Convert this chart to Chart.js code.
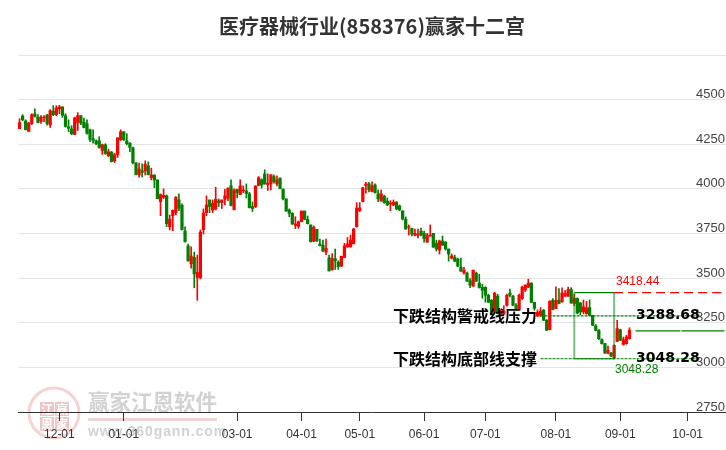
<!DOCTYPE html>
<html>
<head>
<meta charset="utf-8">
<title>医疗器械行业(858376)赢家十二宫</title>
<script src="https://cdn.jsdelivr.net/npm/chart.js@4/dist/chart.umd.min.js"></script>
<style>
  html, body { margin: 0; padding: 0; background: #fff; }
  canvas { display: block; }
</style>
</head>
<body>
<canvas id="chart" width="726" height="450"></canvas>
<script>
// daily candles
const opens = [
  4337,4408,4380,4322,4365,4421,4402,4378,4399,4414,4359,4436,4416,4449,4459,4410,4348,4335,4305,4372,
  4410,4374,4365,4331,4281,4269,4269,4215,4247,4185,4206,4157,4193,4275,4320,4269,4256,4230,4146,4078,
  4101,4101,4129,4063,4078,4050,3929,3953,3961,3788,3850,3867,3938,3908,3764,3680,3580,3616,3504,3502,
  3771,3867,3938,3882,3888,3933,3923,3942,3948,4017,3884,3998,3968,3989,3989,3972,3901,3901,4019,4051,
  4084,4024,4028,4069,4028,4060,3998,3944,3882,3863,3796,3790,3816,3876,3829,3798,3706,3773,3691,3684,
  3646,3614,3547,3609,3590,3567,3616,3676,3676,3693,3788,3878,3929,4019,4028,3985,4022,3972,3932,3959,
  3931,3916,3910,3927,3904,3876,3829,3785,3779,3740,3741,3764,3751,3702,3736,3751,3695,3657,3708,3702,
  3663,3612,3616,3607,3562,3530,3528,3485,3455,3528,3472,3449,3449,3404,3376,3309,3399,3298,3300,3348,
  3416,3399,3346,3329,3386,3433,3449,3472,3365,3287,3292,3320,3264,3212,3376,3330,3376,3367,3399,3399,
  3436,3358,3386,3361,3311,3301,3335,3292,3232,3208,3155,3133,3080,3080,3054,3146,3211,3129,3133,3161
];
const closes = [
  4371,4387,4331,4369,4416,4406,4372,4402,4402,4367,4438,4416,4453,4459,4412,4350,4339,4309,4397,4410,
  4369,4344,4311,4277,4271,4253,4232,4247,4198,4208,4153,4191,4286,4320,4275,4253,4232,4146,4080,4112,
  4092,4138,4080,4078,4050,3945,3968,3964,3805,3830,3880,3953,3891,3771,3704,3597,3624,3524,3532,3757,
  3865,3910,3901,3919,3942,3923,3938,3961,4004,3906,3994,3979,4017,3994,3974,3895,3890,4017,4062,4022,
  4028,4032,4079,4039,4051,4002,3944,3876,3863,3803,3803,3816,3876,3829,3805,3704,3785,3708,3682,3653,
  3667,3541,3610,3597,3564,3622,3680,3691,3713,3775,3893,3893,4006,4028,3994,4017,3979,3944,3972,3923,
  3910,3921,3925,3888,3882,3831,3775,3788,3747,3751,3747,3740,3721,3741,3741,3674,3663,3708,3685,3663,
  3635,3624,3595,3567,3539,3545,3483,3461,3545,3483,3447,3432,3404,3365,3309,3416,3304,3309,3316,3404,
  3404,3348,3331,3404,3449,3461,3472,3365,3331,3309,3315,3264,3208,3371,3324,3376,3358,3417,3414,3436,
  3361,3386,3305,3311,3339,3333,3292,3236,3208,3161,3133,3080,3095,3065,3123,3217,3152,3155,3170,3208
];
const highs = [
  4393,4416,4387,4372,4421,4449,4416,4410,4410,4417,4444,4466,4466,4468,4460,4421,4387,4354,4402,4427,
  4410,4397,4387,4335,4331,4275,4292,4251,4253,4223,4210,4200,4286,4331,4320,4309,4260,4234,4146,4144,
  4140,4157,4151,4116,4078,4050,3972,4000,3966,3854,3882,3957,3972,3916,3788,3691,3676,3646,3629,3770,
  3888,3961,3938,3938,4009,3944,3938,3998,4006,4051,4000,3998,4051,4017,4028,3981,3927,4017,4069,4056,
  4107,4084,4079,4079,4073,4062,4000,3944,3888,3867,3844,3820,3876,3876,3848,3798,3792,3773,3719,3713,
  3719,3629,3638,3663,3597,3624,3695,3728,3741,3779,3923,3923,4009,4036,4036,4039,4028,3994,3994,3964,
  3949,3934,3938,3927,3910,3878,3843,3798,3781,3775,3775,3781,3764,3751,3798,3751,3713,3713,3736,3704,
  3663,3635,3629,3612,3612,3560,3534,3498,3545,3534,3522,3466,3451,3410,3380,3421,3410,3322,3345,3410,
  3438,3404,3357,3410,3455,3462,3494,3474,3365,3322,3335,3325,3268,3373,3385,3451,3442,3445,3430,3450,
  3447,3410,3390,3365,3378,3370,3378,3292,3240,3212,3160,3135,3120,3084,3127,3264,3214,3170,3180,3222
];
const lows = [
  4337,4382,4331,4322,4361,4402,4369,4367,4376,4357,4344,4410,4410,4421,4401,4346,4320,4303,4303,4327,
  4359,4341,4307,4264,4256,4247,4228,4193,4193,4181,4150,4148,4176,4271,4271,4247,4208,4140,4078,4065,
  4067,4078,4078,4050,4007,3944,3850,3946,3788,3770,3766,3854,3878,3770,3702,3595,3556,3446,3376,3496,
  3747,3850,3867,3867,3882,3901,3890,3910,3934,3904,3882,3949,3968,3979,3949,3893,3873,3895,4017,4004,
  4026,3991,3994,4032,4017,4000,3938,3874,3844,3801,3777,3779,3815,3826,3803,3702,3704,3706,3680,3648,
  3631,3539,3545,3549,3549,3565,3614,3672,3672,3691,3786,3873,3927,3976,3983,3983,3976,3929,3931,3919,
  3906,3878,3906,3882,3878,3826,3773,3741,3736,3736,3725,3736,3702,3700,3734,3672,3652,3635,3683,3657,
  3595,3607,3592,3564,3537,3522,3481,3447,3453,3481,3444,3387,3365,3363,3305,3305,3300,3290,3295,3343,
  3395,3346,3329,3328,3380,3425,3447,3363,3320,3285,3285,3262,3205,3210,3322,3330,3355,3365,3397,3397,
  3358,3345,3300,3295,3300,3297,3290,3233,3205,3155,3130,3078,3075,3060,3048,3144,3150,3125,3130,3158
];

// x axis: slot count (trading days incl. the empty run-out) and labelled slots
const slotCount = 231;
const tickSlots = [13, 34, 71, 92, 111, 132, 152, 175, 196, 218];
const tickLabels = ['12-01','01-01','03-01','04-01','05-01','06-01','07-01','08-01','09-01','10-01'];

// y axis
const yMin = 2750;
const yMax = 4750;
const yStep = 250;

// levels from the 十二宫 box
const pressureTop = 3418.44;
const warnLevel = 3288.68;
const supportLevel = 3048.28;
const lastLevel = 3205;
const boxFrom = 181;
const boxTo = 194;
const warnFrom = 170;
const warnTo = 222;
const lastFrom = 201;

const titleText = '医疗器械行业(858376)赢家十二宫';
const warnText = '下跌结构警戒线压力';
const supportText = '下跌结构底部线支撑';

const RED = '#ff0000';
const GREEN = '#008000';
const candleColors = opens.map((o, i) => (closes[i] >= o ? RED : GREEN));

const labels = [];
for (let i = 0; i < slotCount; i++) {
  const at = tickSlots.indexOf(i);
  labels.push(at >= 0 ? tickLabels[at] : '');
}

// flat level between two slots, as a line dataset
function level(name, from, to, value, color, dash) {
  const data = [];
  for (let i = 0; i < slotCount; i++) data.push(i >= from && i <= to ? value : null);
  return {
    type: 'line',
    label: name,
    data: data,
    borderColor: color,
    borderWidth: 1.2,
    borderDash: dash,
    pointRadius: 0,
    spanGaps: false,
    order: -1
  };
}

const watermark = {
  id: 'watermark',
  beforeDraw(chart) {
    const c = chart.ctx;
    c.save();
    c.fillStyle = '#fff';
    c.fillRect(0, 0, chart.width, chart.height);
    // seal
    c.strokeStyle = '#f3d3d3';
    c.lineWidth = 3;
    c.beginPath();
    c.arc(54, 413, 25, 0, Math.PI * 2);
    c.stroke();
    c.fillStyle = '#efc4c4';
    [[40, 402], [55, 402], [40, 417], [55, 417]].forEach(s => {
      c.fillRect(s[0], s[1], 14, 14);
    });
    c.fillStyle = '#fff';
    c.font = 'bold 12px "Noto Sans CJK SC"';
    c.textAlign = 'center';
    c.textBaseline = 'middle';
    [[47, 409, '江'], [62, 409, '赢'], [47, 424, '恩'], [62, 424, '家']].forEach(s => {
      c.fillText(s[2], s[0], s[1]);
    });
    // name
    c.textAlign = 'left';
    c.fillStyle = '#d2d2d2';
    c.font = 'bold 21.5px "Noto Sans CJK SC"';
    c.fillText('赢家江恩软件', 88, 402);
    c.fillStyle = '#efd4d4';
    c.fillRect(88, 418, 129, 3);
    c.fillStyle = '#d2d2d2';
    c.font = 'bold 14px "Liberation Sans"';
    c.letterSpacing = '0.9px';
    c.fillText('www.360gann.com', 88, 432);
    c.letterSpacing = '0px';
    c.restore();
  }
};

const boxAndText = {
  id: 'boxAndText',
  afterDatasetsDraw(chart) {
    const c = chart.ctx;
    const x = chart.scales.x;
    const y = chart.scales.y;
    const left = x.getPixelForValue(boxFrom);
    const mid = x.getPixelForValue(boxTo);
    c.save();

    // box sides
    c.strokeStyle = 'rgba(0,128,0,0.5)';
    c.lineWidth = 2;
    c.beginPath();
    c.moveTo(left, y.getPixelForValue(pressureTop));
    c.lineTo(left, y.getPixelForValue(supportLevel));
    c.moveTo(mid, y.getPixelForValue(pressureTop));
    c.lineTo(mid, y.getPixelForValue(supportLevel));
    c.stroke();

    // texts
    c.textBaseline = 'middle';
    c.textAlign = 'left';
    c.font = '12px "Liberation Sans"';
    c.fillStyle = RED;
    c.fillText(pressureTop.toFixed(2), 616, y.getPixelForValue(pressureTop) - 11);
    c.fillStyle = GREEN;
    c.fillText(supportLevel.toFixed(2), 615, y.getPixelForValue(supportLevel) + 11);

    c.fillStyle = '#000';
    c.font = 'bold 16px "Noto Sans CJK SC"';
    c.fillText(warnText, 393, y.getPixelForValue(warnLevel));
    c.fillText(supportText, 393, y.getPixelForValue(supportLevel));
    c.font = 'bold 14px "DejaVu Sans"';
    c.fillText(warnLevel.toFixed(2), 636, y.getPixelForValue(warnLevel));
    c.fillText(supportLevel.toFixed(2), 636, y.getPixelForValue(supportLevel));
    c.restore();
  }
};

new Chart(document.getElementById('chart'), {
  type: 'bar',
  data: {
    labels: labels,
    datasets: [
      level('pressure', boxTo, slotCount - 1, pressureTop, RED, [9, 5]),
      level('box top', boxFrom, boxTo, pressureTop, GREEN, []),
      level('warn', warnFrom, warnTo, warnLevel, GREEN, [3, 1]),
      level('support', warnFrom, warnTo, supportLevel, GREEN, [3, 1]),
      level('box bottom', boxFrom, boxTo, supportLevel, GREEN, []),
      level('last', lastFrom, slotCount - 1, lastLevel, GREEN, [45, 1]),
      {
        label: 'wick',
        data: lows.map((l, i) => [l, highs[i]]),
        backgroundColor: candleColors,
        barThickness: 1,
        grouped: false
      },
      {
        label: 'body',
        data: opens.map((o, i) => [o, closes[i]]),
        backgroundColor: candleColors,
        barThickness: 2.6,
        grouped: false
      }
    ]
  },
  plugins: [watermark, boxAndText],
  options: {
    responsive: false,
    animation: false,
    layout: { padding: { left: 18, right: 0, top: 0, bottom: 0 } },
    plugins: {
      legend: { display: false },
      tooltip: { enabled: false },
      title: {
        display: true,
        text: titleText,
        color: '#333',
        font: { family: '"Noto Sans CJK SC"', size: 20, weight: 'bold' },
        padding: { top: 14, bottom: 17 }
      }
    },
    scales: {
      x: {
        type: 'category',
        afterFit(scale) { scale.height = 38; },
        afterBuildTicks(scale) {
          scale.ticks = scale.ticks.filter(t => labels[t.value] !== '');
        },
        grid: { offset: false, drawOnChartArea: false, drawTicks: true, tickLength: 9, tickColor: '#333' },
        border: { color: '#333', width: 1 },
        ticks: {
          autoSkip: false,
          maxRotation: 0,
          padding: 6,
          color: '#333',
          font: { family: '"Liberation Sans"', size: 12 },
          callback(value) { return labels[value]; }
        }
      },
      y: {
        position: 'right',
        min: yMin,
        max: yMax,
        afterFit(scale) { scale.width = 0; },
        grid: { color: '#e4e4e4', drawTicks: false },
        border: { display: false },
        ticks: {
          stepSize: yStep,
          mirror: true,
          padding: -1,
          labelOffset: -5,
          color: '#444',
          font: { family: '"Liberation Sans"', size: 13 },
          callback(value) { return value === yMax ? '' : value; }
        }
      }
    }
  }
});
</script>
</body>
</html>
